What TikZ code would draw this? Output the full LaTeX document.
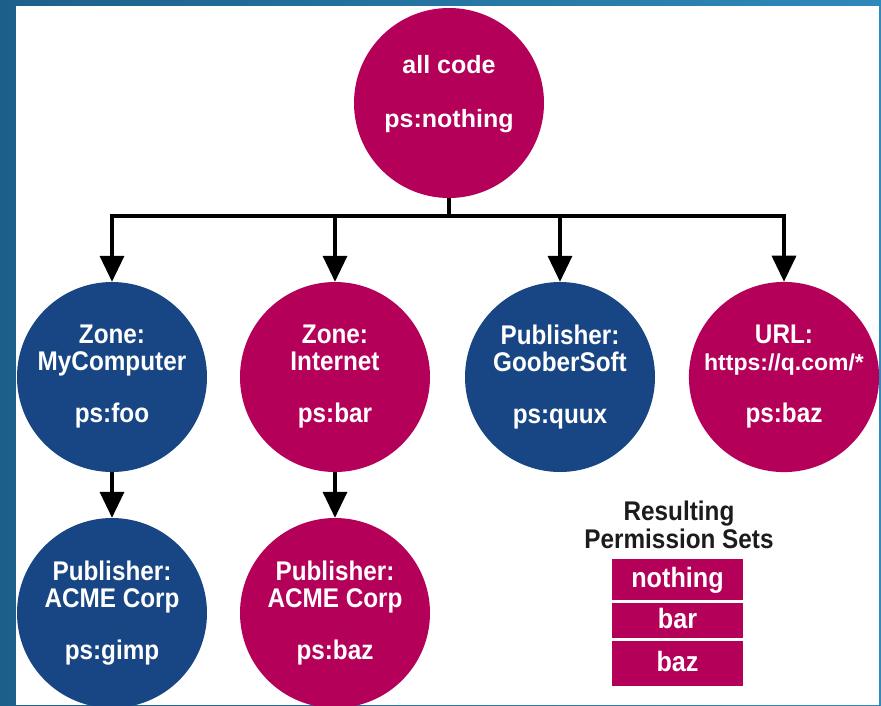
\documentclass[tikz,border=0pt]{standalone}
\usepackage{fontspec}
\setmainfont{Liberation Sans}[FakeStretch=0.9]
\newfontfamily\plainsans{Liberation Sans}
\usepackage{tikz}
\usetikzlibrary{
  arrows.meta,
  positioning,
}
\definecolor{pantone214}{RGB}{180, 0, 88}
\definecolor{pantone7686}{RGB}{24, 70, 132}
\colorlet{zonered}{pantone214}
\colorlet{zoneblue}{pantone7686}
\definecolor{framedark}{RGB}{28, 96, 138}
\definecolor{framelight}{RGB}{46, 138, 186}
\definecolor{titlegray}{RGB}{28, 28, 28}
\tikzstyle{policy} = [
  circle,
  minimum size=190pt,
  inner sep=0pt,
  align=center,
  text=white,
  font=\fontsize{27}{27}\selectfont\bfseries,
]
\tikzstyle{arrow} = [
  -{Triangle[length=26pt,width=24pt]},
  line width=3.5pt,
  black,
]
\tikzstyle{link} = [
  line width=3.5pt,
  black,
]
\tikzstyle{permset} = [
  fill=zonered,
  minimum width=131pt,
  inner sep=0pt,
  text=white,
  text height=21pt,
  text depth=6pt,
  font=\fontsize{28}{28}\selectfont\bfseries,
]

\begin{document}
\begin{tikzpicture}[x=1pt, y=-1pt]

        \useasboundingbox (0,0) rectangle (881,705);

        \shade [left color=framedark, right color=framelight] (0,0) rectangle (881,705);

        \fill [white] (16,6) rectangle (879,705);

        \node [policy, fill=zonered, text depth=24pt,
               font=\plainsans\fontsize{25}{25}\selectfont\bfseries]
              (allcode) at (449,103) {all code\\[29pt]ps:nothing};

        \node [policy, fill=zoneblue] (mycomp) at (112,377)
              {Zone:\\MyComputer\\[25pt]ps:foo};

        \node [policy, fill=zonered] (internet) at (335,377)
              {Zone:\\Internet\\[25pt]ps:bar};

        \node [policy, fill=zoneblue] (goober) at (560,377)
              {Publisher:\\GooberSoft\\[25pt]ps:quux};

        \node [policy, fill=zonered] (url) at (784,377)
              {URL:\\{\plainsans\fontsize{23}{27}\selectfont\bfseries https://q.com/*}\\[25pt]ps:baz};

        \node [policy, fill=zoneblue] (acmegimp) at (112,613)
              {Publisher:\\ACME Corp\\[25pt]ps:gimp};

        \node [policy, fill=zonered] (acmebaz) at (335,613)
              {Publisher:\\ACME Corp\\[25pt]ps:baz};

        \coordinate (split) at (449,216);

        \draw [link] (allcode) -- (split);

        \foreach \n in {mycomp,internet,goober,url} {
          \draw [arrow] (split) -| (\n);
        }

        \draw [arrow] (mycomp) -- (acmegimp);

        \draw [arrow] (internet) -- (acmebaz);

        \node [align=center, text=titlegray, font=\fontsize{27}{28}\selectfont\bfseries]
              (legend) at (679,525) {Resulting\\Permission Sets};

        \node [permset, minimum height=41pt] (setnothing) at (677.5,579.5) {nothing};

        \node [permset, minimum height=35pt] (setbar) at (677.5,620.5) {bar};

        \node [permset, minimum height=45pt] (setbaz) at (677.5,663.5) {baz};
      \end{tikzpicture}
\end{document}
